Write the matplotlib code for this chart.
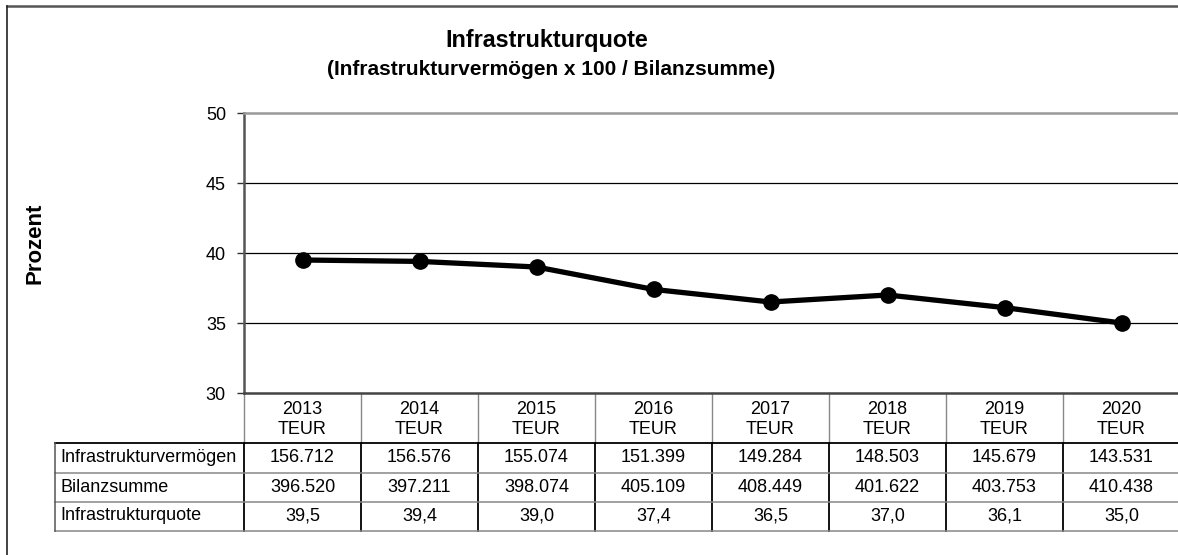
import matplotlib
matplotlib.use('Agg')
import matplotlib.pyplot as plt
import matplotlib.transforms as mtransforms
from matplotlib.lines import Line2D

plt.rcParams['font.family'] = ['Liberation Sans', 'DejaVu Sans']

# Chart data.
years = ['2013', '2014', '2015', '2016', '2017', '2018', '2019', '2020']
infrastrukturvermoegen = [156712, 156576, 155074, 151399, 149284, 148503, 145679, 143531]
bilanzsumme = [396520, 397211, 398074, 405109, 408449, 401622, 403753, 410438]
infrastrukturquote = [39.5, 39.4, 39.0, 37.4, 36.5, 37.0, 36.1, 35.0]
row_labels = ['Infrastrukturvermögen', 'Bilanzsumme', 'Infrastrukturquote']
y_ticks = [30, 35, 40, 45, 50]

W, H = 1178, 555


# German number format helpers.
def fmt_teur(v):
    return f'{v:,}'.replace(',', '.')


def fmt_quote(v):
    return f'{v:.1f}'.replace('.', ',')


def fy(px):
    return 1 - px / H


def fx(px):
    return px / W


fig = plt.figure(figsize=(W / 100, H / 100), dpi=100)

# Outer frame (only top and left edges visible in the crop).
fig.add_artist(Line2D([fx(6.5), fx(W + 5)], [fy(5.5), fy(5.5)], color='#555555', lw=1.8, transform=fig.transFigure))
fig.add_artist(Line2D([fx(6.5), fx(6.5)], [fy(5.5), fy(H + 5)], color='#222222', lw=1.2, transform=fig.transFigure))

# Plot area spans eight 117 px columns starting at x=244.
ax_left, ax_right, ax_top, ax_bottom = 244, 244 + 8 * 117, 113, 393
ax = fig.add_axes([fx(ax_left), fy(ax_bottom), fx(ax_right - ax_left), (ax_bottom - ax_top) / H])

x = list(range(len(years)))
ax.plot(x, infrastrukturquote, color='black', lw=3.8, marker='o', markersize=11, zorder=3, clip_on=False)

ax.set_xlim(-0.5, len(years) - 0.5)
ax.set_ylim(y_ticks[0], y_ticks[-1])
ax.set_yticks(y_ticks)
ax.set_yticklabels([str(t) for t in y_ticks], fontsize=13)
ax.tick_params(axis='y', direction='out', length=5, width=1, color='#333333', pad=8)
ax.set_xticks([])
for t in y_ticks[1:-1]:
    ax.axhline(t, color='black', lw=0.9, zorder=1)

ax.spines['left'].set_color('#555555')
ax.spines['left'].set_linewidth(1.8)
ax.spines['bottom'].set_color('#444444')
ax.spines['bottom'].set_linewidth(1.8)
ax.spines['top'].set_color('#999999')
ax.spines['top'].set_linewidth(1.8)
ax.spines['right'].set_visible(False)

# Titles.
fig.text(fx(547), fy(40), 'Infrastrukturquote', ha='center', va='center', fontsize=16.8, fontweight='bold')
fig.text(fx(551), fy(69), '(Infrastrukturvermögen x 100 / Bilanzsumme)', ha='center', va='center',
         fontsize=15, fontweight='bold')
fig.text(fx(35), fy(243), 'Prozent', ha='center', va='center', rotation=90, fontsize=16, fontweight='bold')

# Data table below the axis: x in data units, y in figure fraction.
trans = mtransforms.blended_transform_factory(ax.transData, fig.transFigure)
header_bottom = 443
row_edges = [443, 472.5, 501.5, 530.5]
label_left = 55

# Header row with year / unit.
for i, yr in enumerate(years):
    ax.text(i, fy(409), yr, transform=trans, ha='center', va='center', fontsize=13, clip_on=False)
    ax.text(i, fy(429), 'TEUR', transform=trans, ha='center', va='center', fontsize=13, clip_on=False)
for i in range(len(years) + 1):
    ax.add_line(Line2D([i - 0.5, i - 0.5], [fy(ax_bottom), fy(header_bottom)], color='#888888', lw=1.0,
                       transform=trans, clip_on=False))

# Body rows.
rows = [
    [fmt_teur(v) for v in infrastrukturvermoegen],
    [fmt_teur(v) for v in bilanzsumme],
    [fmt_quote(v) for v in infrastrukturquote],
]
for r, (label, values) in enumerate(zip(row_labels, rows)):
    yc = fy((row_edges[r] + row_edges[r + 1]) / 2)
    fig.text(fx(label_left + 5), yc, label, ha='left', va='center', fontsize=13)
    for i, val in enumerate(values):
        ax.text(i, yc, val, transform=trans, ha='center', va='center', fontsize=13, clip_on=False)

# Table grid.
for k, ye in enumerate(row_edges):
    fig.add_artist(Line2D([fx(label_left), fx(W + 5)], [fy(ye), fy(ye)],
                          color='black' if k == 0 else '#888888', lw=1.3 if k == 0 else 1.1,
                          transform=fig.transFigure))
fig.add_artist(Line2D([fx(label_left), fx(label_left)], [fy(row_edges[0]), fy(row_edges[-1])],
                      color='#555555', lw=1.1, transform=fig.transFigure))
for i in range(len(years) + 1):
    ax.add_line(Line2D([i - 0.5, i - 0.5], [fy(row_edges[0]), fy(row_edges[-1])], color='black', lw=1.3,
                       transform=trans, clip_on=False))

fig.savefig('out.png', dpi=100)
